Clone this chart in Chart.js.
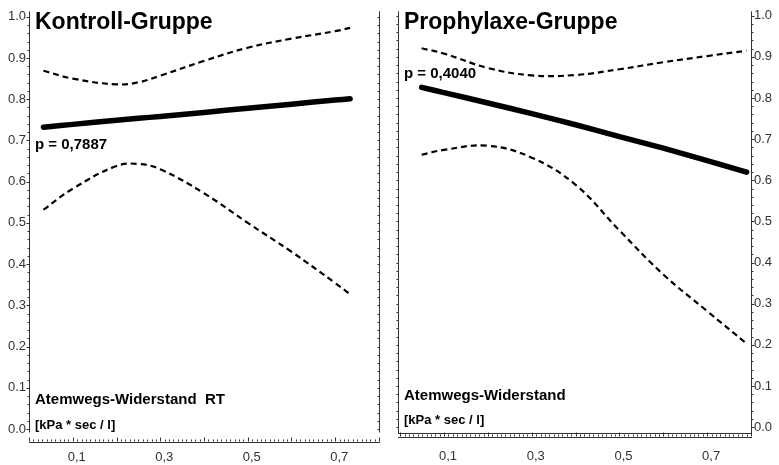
<!DOCTYPE html>
<html>
<head>
<meta charset="utf-8">
<script src="https://cdn.jsdelivr.net/npm/chart.js@4"></script>
<style>
  body { margin: 0; background: #fff; }
  #wrap { position: relative; width: 779px; height: 465px; }
  canvas { position: absolute; top: 0; }
</style>
</head>
<body>
<div id="wrap">
  <canvas id="kontroll" width="390" height="465" style="left:0"></canvas>
  <canvas id="prophylaxe" width="389" height="465" style="left:390px"></canvas>
</div>
<script>
// tick labels
const xTickValues = [0.1, 0.3, 0.5, 0.7];
const yTickValues = [0, 0.1, 0.2, 0.3, 0.4, 0.5, 0.6, 0.7, 0.8, 0.9, 1.0];

// Kontroll-Gruppe
const kontrollX     = [0.033, 0.1, 0.2, 0.25, 0.3, 0.4, 0.5, 0.6, 0.7, 0.734];
const kontrollFit   = [0.732, 0.739, 0.749, 0.754, 0.758, 0.768, 0.778, 0.788, 0.798, 0.801];
const kontrollUpper = [0.869, 0.850, 0.836, 0.841, 0.857, 0.893, 0.925, 0.947, 0.965, 0.973];
const kontrollLower = [0.532, 0.583, 0.638, 0.643, 0.630, 0.572, 0.500, 0.430, 0.354, 0.327];

// Prophylaxe-Gruppe
const prophylaxeX     = [0.049, 0.1, 0.2, 0.3, 0.4, 0.5, 0.6, 0.7, 0.79];
const prophylaxeFit   = [0.826, 0.813, 0.788, 0.762, 0.735, 0.706, 0.678, 0.648, 0.620];
const prophylaxeUpper = [0.921, 0.908, 0.873, 0.855, 0.856, 0.870, 0.887, 0.902, 0.915];
const prophylaxeLower = [0.662, 0.674, 0.684, 0.655, 0.589, 0.478, 0.371, 0.282, 0.203];

const FONT = '"Liberation Sans", Arial, sans-serif';
const INK = '#333333';

function points(xs, ys) {
    return xs.map((x, i) => ({ x: x, y: ys[i] }));
}

// axis rulers, minor ticks, frame lines and the panel texts
const framePlugin = {
    id: 'frame',
    afterDraw(chart, args, opts) {
        const ctx = chart.ctx;
        const a = chart.chartArea;
        const xs = chart.scales.x;
        const ys = chart.scales.y;
        const yBottom = Math.round(ys.getPixelForValue(0)) + opts.gap + 0.5;
        const top = a.top + 0.5;
        const axisX = Math.round(opts.side === 'left' ? a.left : a.right) + 0.5;
        const otherX = Math.round(opts.side === 'left' ? a.right : a.left) + 0.5;
        const dir = opts.side === 'left' ? -1 : 1;

        ctx.save();
        ctx.strokeStyle = INK;
        ctx.lineWidth = 1;
        ctx.beginPath();
        ctx.moveTo(axisX, top); ctx.lineTo(axisX, yBottom);
        ctx.moveTo(otherX, top); ctx.lineTo(otherX, yBottom);
        if (opts.boxBottom) {
            ctx.moveTo(a.left, yBottom); ctx.lineTo(a.right, yBottom);
        }
        // y ticks
        for (let i = 0; i <= 50; i++) {
            const y = Math.round(ys.getPixelForValue(i / 50)) + 0.5;
            const len = i % 5 === 0 ? 3 : 2;
            ctx.moveTo(axisX, y); ctx.lineTo(axisX + dir * len, y);
            ctx.moveTo(otherX, y); ctx.lineTo(otherX - 2, y);
        }
        // x ruler ticks (pointing up)
        const xb = Math.round(a.bottom) - 0.5;
        for (let i = 0; i <= 80; i++) {
            const x = Math.round(xs.getPixelForValue(i / 100)) + 0.5;
            const len = i % 10 === 0 ? 4 : 2;
            ctx.moveTo(x, xb); ctx.lineTo(x, xb - len);
        }
        ctx.stroke();

        ctx.fillStyle = '#000';
        ctx.textBaseline = 'alphabetic';
        ctx.textAlign = 'left';
        opts.texts.forEach(t => {
            ctx.font = 'bold ' + t.size + 'px ' + FONT;
            ctx.fillText(t.text, a.left + t.dx, t.y);
        });
        ctx.restore();
    }
};

function makeChart(id, cfg) {
    return new Chart(document.getElementById(id), {
        type: 'line',
        data: {
            datasets: [
                {
                    label: 'Regression',
                    data: points(cfg.xs, cfg.fit),
                    borderColor: '#000',
                    borderWidth: 5.5,
                    borderCapStyle: 'round',
                    pointRadius: 0,
                    tension: 0.2,
                },
                {
                    label: 'oberes Konfidenzband',
                    data: points(cfg.xs, cfg.upper),
                    borderColor: '#000',
                    borderWidth: 2.2,
                    borderDash: [6, 4],
                    pointRadius: 0,
                    tension: 0.4,
                },
                {
                    label: 'unteres Konfidenzband',
                    data: points(cfg.xs, cfg.lower),
                    borderColor: '#000',
                    borderWidth: 2.2,
                    borderDash: [6, 4],
                    pointRadius: 0,
                    tension: 0.4,
                },
            ],
        },
        options: {
            responsive: false,
            animation: false,
            devicePixelRatio: 1,
            layout: { padding: cfg.padding },
            plugins: {
                legend: { display: false },
                tooltip: { enabled: false },
                frame: cfg.frame,
            },
            scales: {
                x: {
                    type: 'linear',
                    min: cfg.xMin,
                    max: 0.8,
                    afterBuildTicks: s => { s.ticks = xTickValues.map(v => ({ value: v })); },
                    afterFit: s => { s.height = cfg.xHeight; },
                    grid: { display: false, drawTicks: false },
                    border: { display: true, color: INK, width: 1 },
                    ticks: {
                        autoSkip: false,
                        maxRotation: 0,
                        padding: cfg.xPad,
                        labelOffset: 4,
                        color: INK,
                        font: { family: FONT, size: 13 },
                        callback: v => v.toFixed(1).replace('.', ','),
                    },
                },
                y: {
                    type: 'linear',
                    position: cfg.frame.side,
                    min: cfg.yMin,
                    max: cfg.yMax,
                    afterBuildTicks: s => { s.ticks = yTickValues.map(v => ({ value: v })); },
                    afterFit: s => { s.width = cfg.yWidth; },
                    grid: { display: false, drawTicks: false },
                    border: { display: false },
                    ticks: {
                        autoSkip: false,
                        padding: 3,
                        color: INK,
                        font: { family: FONT, size: 13 },
                        callback: v => v.toFixed(1),
                    },
                },
            },
        },
        plugins: [framePlugin],
    });
}

makeChart('kontroll', {
    xs: kontrollX, fit: kontrollFit, upper: kontrollUpper, lower: kontrollLower,
    padding: { top: 10, right: 11, left: 0, bottom: 0 },
    xMin: 0, xHeight: 23, xPad: 8,
    yMin: -0.0315, yMax: 1.0145, yWidth: 29,
    frame: {
        side: 'left', gap: 3, boxBottom: false,
        texts: [
            { text: 'Kontroll-Gruppe', size: 23, dx: 6, y: 28.5 },
            { text: 'p = 0,7887', size: 15, dx: 6, y: 149 },
            { text: 'Atemwegs-Widerstand  RT', size: 15, dx: 6, y: 404 },
            { text: '[kPa * sec / l]', size: 13, dx: 6, y: 429 },
        ],
    },
});

makeChart('prophylaxe', {
    xs: prophylaxeX, fit: prophylaxeFit, upper: prophylaxeUpper, lower: prophylaxeLower,
    padding: { top: 10, right: 0, left: 8, bottom: 0 },
    xMin: -0.005, xHeight: 28, xPad: 12,
    yMin: -0.024, yMax: 1.012, yWidth: 28,
    frame: {
        side: 'right', gap: 6, boxBottom: true,
        texts: [
            { text: 'Prophylaxe-Gruppe', size: 23, dx: 6, y: 28.5 },
            { text: 'p = 0,4040', size: 15, dx: 6, y: 78 },
            { text: 'Atemwegs-Widerstand', size: 15, dx: 6, y: 399.5 },
            { text: '[kPa * sec / l]', size: 13, dx: 6, y: 423.5 },
        ],
    },
});
</script>
</body>
</html>
